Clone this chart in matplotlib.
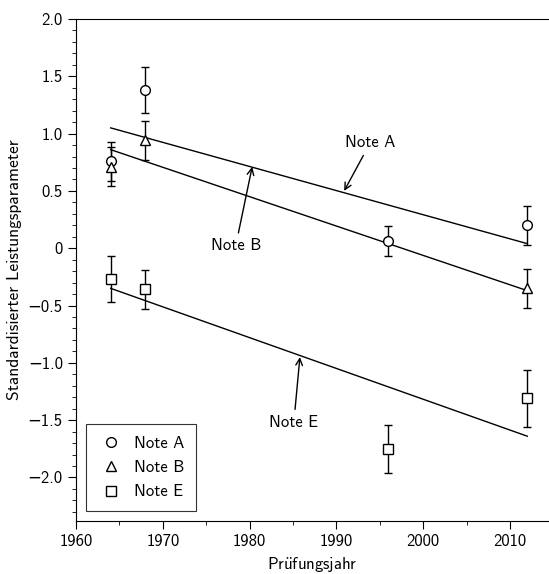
import matplotlib
matplotlib.use("Agg")
import matplotlib.pyplot as plt
from matplotlib.lines import Line2D
from matplotlib.ticker import MultipleLocator, FuncFormatter

plt.rcParams['font.family'] = ['cmss10', 'DejaVu Sans']
plt.rcParams['mathtext.fontset'] = 'cm'
plt.rcParams['axes.unicode_minus'] = True
plt.rcParams['font.size'] = 12

# data
years_a = [1964, 1968, 1996, 2012]
vals_a = [0.76, 1.38, 0.06, 0.20]
err_a = [0.17, 0.20, 0.13, 0.17]

years_b = [1964, 1968, 2012]
vals_b = [0.71, 0.94, -0.35]
err_b = [0.17, 0.17, 0.17]

years_e = [1964, 1968, 1996, 2012]
vals_e = [-0.27, -0.36, -1.75, -1.31]
err_e = [0.20, 0.17, 0.21, 0.25]

fit_years = [1964, 2012]
fit_a = [1.05, 0.04]
fit_b = [0.86, -0.37]
fit_e = [-0.35, -1.64]

labels = ['Note A', 'Note B', 'Note E']
markers = ['o', '^', 's']

fig = plt.figure(figsize=(5.49, 5.74), dpi=100)
ax = fig.add_axes([0.1384, 0.0923, 0.8616, 0.8746])

kw = dict(color='black', mfc='white', mec='black', ms=7, capsize=3,
          elinewidth=1, capthick=1, ls='none', mew=1)
ax.errorbar(years_a, vals_a, yerr=err_a, marker=markers[0], **kw)
ax.errorbar(years_b, vals_b, yerr=err_b, marker=markers[1], **kw)
ax.errorbar(years_e, vals_e, yerr=err_e, marker=markers[2], **kw)

ax.plot(fit_years, fit_a, color='black', lw=1)
ax.plot(fit_years, fit_b, color='black', lw=1)
ax.plot(fit_years, fit_e, color='black', lw=1)

arrow = dict(arrowstyle='->', color='black', lw=1, shrinkA=2, shrinkB=0)
ax.annotate('Note A', xy=(1990.9, 0.50), xytext=(1993.9, 0.92),
            ha='center', va='center', fontsize=12, arrowprops=arrow)
ax.annotate('Note B', xy=(1980.3, 0.71), xytext=(1978.4, 0.02),
            ha='center', va='center', fontsize=12, arrowprops=arrow)
ax.annotate('Note E', xy=(1985.8, -0.95), xytext=(1985.1, -1.52),
            ha='center', va='center', fontsize=12, arrowprops=arrow)

ax.set_xlim(1960, 2014.5)
ax.set_ylim(-2.38, 2.0)
ax.xaxis.set_major_locator(MultipleLocator(10))
ax.xaxis.set_minor_locator(MultipleLocator(5))
ax.yaxis.set_major_locator(MultipleLocator(0.5))
ax.yaxis.set_minor_locator(MultipleLocator(0.1))

def yfmt(v, pos):
    if abs(v) < 1e-9:
        return '0'
    return ('%.1f' % v).replace('-', '\u2212')

ax.yaxis.set_major_formatter(FuncFormatter(yfmt))
ax.tick_params(which='both', direction='out', top=False, right=False,
               labelsize=12)
ax.tick_params(which='major', length=6)
ax.tick_params(which='minor', length=3)
ax.spines['right'].set_visible(False)

ax.set_xlabel(r'Pr$\mathsf{\ddot{u}}$fungsjahr', fontsize=12)
ax.set_ylabel('Standardisierter Leistungsparameter', fontsize=12.5)

handles = [Line2D([], [], ls='none', marker=m, mfc='white', mec='black',
                  ms=7, mew=1) for m in markers]
leg = ax.legend(handles, labels, loc='lower left', frameon=True,
                fancybox=False, edgecolor='black', fontsize=12,
                borderpad=0.7, labelspacing=0.55, handletextpad=0.6,
                handlelength=1.6, borderaxespad=0.6)
leg.get_frame().set_linewidth(0.8)

fig.savefig('out.png', dpi=100)
